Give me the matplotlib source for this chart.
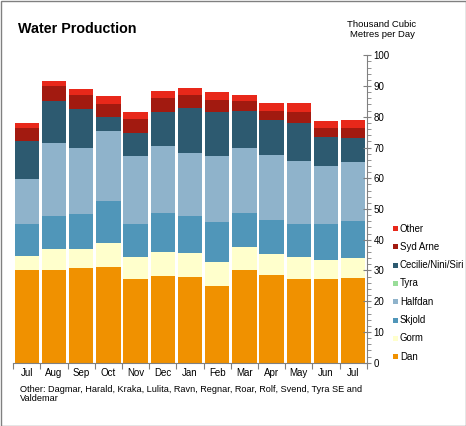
import matplotlib
matplotlib.use("Agg")
import matplotlib.pyplot as plt
from matplotlib.patches import Rectangle
from matplotlib.ticker import MultipleLocator
import numpy as np

plt.rcParams["font.family"] = ["Liberation Sans", "DejaVu Sans"]

months = ["Jul", "Aug", "Sep", "Oct", "Nov", "Dec", "Jan",
          "Feb", "Mar", "Apr", "May", "Jun", "Jul"]

# thousand m3 per day
dan = [30.2, 30.0, 30.8, 31.1, 27.1, 28.1, 27.8, 24.9, 30.0, 28.4, 27.1, 27.1, 27.4]
gorm = [4.5, 6.9, 6.1, 7.8, 7.2, 7.9, 7.9, 7.9, 7.6, 7.0, 7.2, 6.2, 6.6]
skjold = [10.5, 10.9, 11.6, 13.8, 10.9, 12.8, 12.1, 13.1, 11.2, 11.0, 10.9, 11.9, 12.1]
halfdan = [14.6, 23.7, 21.3, 22.7, 22.0, 21.7, 20.4, 21.3, 21.0, 21.2, 20.4, 18.8, 19.2]
tyra = [0, 0, 0, 0, 0, 0, 0, 0, 0, 0, 0, 0, 0]
cecilie = [12.3, 13.6, 12.7, 4.5, 7.4, 11.1, 14.7, 14.4, 12.0, 11.4, 12.3, 9.3, 7.7]
syd_arne = [4.1, 4.9, 4.5, 4.3, 4.6, 4.4, 4.1, 3.8, 3.3, 3.0, 3.8, 2.9, 3.4]
other = [1.7, 1.6, 2.0, 2.6, 2.4, 2.4, 2.4, 2.7, 2.0, 2.5, 2.8, 2.4, 2.5]

series = [
    ("Dan", dan, "#f09100"),
    ("Gorm", gorm, "#ffffcc"),
    ("Skjold", skjold, "#5096b9"),
    ("Halfdan", halfdan, "#8fb3cb"),
    ("Tyra", tyra, "#99dd99"),
    ("Cecilie/Nini/Siri", cecilie, "#2d5a70"),
    ("Syd Arne", syd_arne, "#a21a10"),
    ("Other", other, "#e8281a"),
]

W, H = 466, 426
fig = plt.figure(figsize=(W / 100, H / 100), dpi=100)
ax = fig.add_axes([13.3 / W, 1 - 362.7 / H, (366.7 - 13.3) / W, (362.7 - 55.3) / H])

x = np.arange(len(months))
bottom = np.zeros(len(months))
for name, vals, color in series:
    ax.bar(x, vals, 0.9, bottom=bottom, color=color, lw=0)
    bottom += np.array(vals)

ax.set_xlim(-0.5, len(months) - 0.5)
ax.set_ylim(0, 100)

for s in ("top", "left"):
    ax.spines[s].set_visible(False)
ax.spines["right"].set_color("#808080")
ax.spines["bottom"].set_color("#808080")

ax.yaxis.tick_right()
ax.yaxis.set_major_locator(MultipleLocator(10))
ax.yaxis.set_minor_locator(MultipleLocator(2))
ax.tick_params(axis="y", which="major", direction="inout", length=6, color="#808080",
               labelsize=7, pad=2)
ax.tick_params(axis="y", which="minor", direction="out", length=3, color="#808080")

ax.set_xticks(np.arange(-0.5, len(months), 1.0))
ax.set_xticklabels([])
ax.set_xticks(x, minor=True)
ax.set_xticklabels(months, minor=True)
ax.tick_params(axis="x", which="major", direction="out", length=4, color="#808080")
ax.tick_params(axis="x", which="minor", length=0, labelsize=7, pad=4)

fig.text(18 / W, 1 - 29 / H, "Water Production", fontsize=10.3, weight="bold",
         va="center", ha="left")
fig.text(382 / W, 1 - 29.5 / H, "Thousand Cubic\nMetres per Day", fontsize=6.8,
         va="center", ha="center", linespacing=1.1)
fig.text(20 / W, 1 - 385 / H,
         "Other: Dagmar, Harald, Kraka, Lulita, Ravn, Regnar, Roar, Rolf, Svend, Tyra SE and\nValdemar",
         fontsize=6.6, va="top", ha="left", linespacing=1.05)

# legend, top entry first
for i, (name, vals, color) in enumerate(reversed(series)):
    yc = 228.5 + i * 18.3
    fig.add_artist(Rectangle((393 / W, 1 - (yc + 2.5) / H), 5 / W, 5 / H,
                             transform=fig.transFigure, color=color, lw=0))
    fig.text(400 / W, 1 - yc / H, name, fontsize=6.9, va="center", ha="left")

fig.add_artist(Rectangle((0.5 / W, 0.5 / H), (W - 1) / W, (H - 1) / H,
                         transform=fig.transFigure, fill=False, ec="#808080", lw=1))

fig.savefig("out.png", dpi=100)
